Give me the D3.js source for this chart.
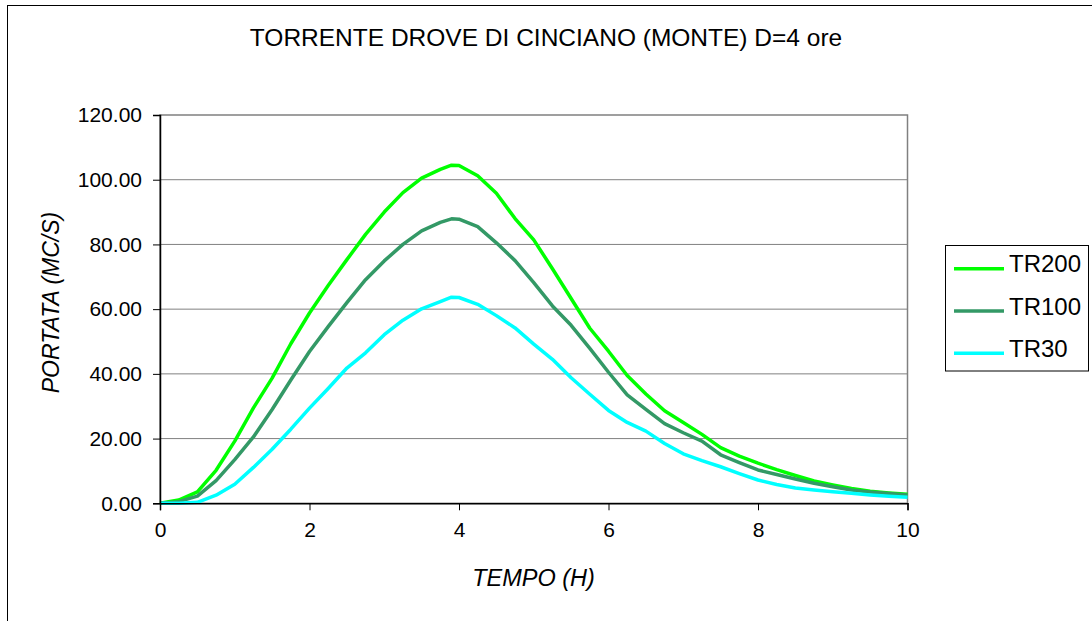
<!DOCTYPE html>
<html>
<head>
<meta charset="utf-8">
<script src="https://cdn.jsdelivr.net/npm/d3@7"></script>
<style>
  html, body { margin: 0; padding: 0; background: #fff; }
  svg { display: block; font-family: "Liberation Sans", Arial, sans-serif; }
</style>
</head>
<body>
<svg id="chart" width="1092" height="621"></svg>
<script>
const title = "TORRENTE DROVE DI CINCIANO (MONTE) D=4 ore";
const xTitle = "TEMPO (H)";
const yTitle = "PORTATA (MC/S)";
const seriesNames = ["TR200", "TR100", "TR30"];
const seriesColors = ["#00FF00", "#339966", "#00FFFF"];
const xTicks = [0, 2, 4, 6, 8, 10];
const yTicks = [0, 20, 40, 60, 80, 100, 120];

const time = [0, 0.25, 0.5, 0.75, 1, 1.25, 1.5, 1.75, 2, 2.25, 2.5, 2.75, 3, 3.25, 3.5, 3.75, 3.9, 4,
  4.25, 4.5, 4.75, 5, 5.25, 5.5, 5.75, 6, 6.25, 6.5, 6.75, 7, 7.25, 7.5, 7.75, 8,
  8.25, 8.5, 8.75, 9, 9.25, 9.5, 9.75, 10];
const tr200 = [0, 1.0, 3.5, 10.2, 19.2, 29.5, 38.7, 49.3, 58.8, 67.3, 75.3, 83.1, 90.0, 96.0, 100.5, 103.2, 104.5, 104.4,
  101.2, 95.8, 88.0, 81.4, 72.5, 63.3, 54.1, 47.0, 39.5, 33.8, 28.6, 25.0, 21.3, 17.2, 14.6, 12.4,
  10.4, 8.6, 6.9, 5.7, 4.6, 3.7, 3.2, 2.8];
const tr100 = [0, 0.5, 2.2, 7.0, 13.5, 20.5, 29.0, 38.1, 46.9, 54.6, 62.0, 69.1, 74.9, 80.0, 84.2, 86.8, 87.9, 87.8,
  85.5, 80.5, 75.0, 68.2, 61.0, 55.0, 47.9, 40.5, 33.5, 29.0, 24.6, 21.8, 19.2, 15.0, 12.6, 10.3,
  8.9, 7.5, 6.2, 5.1, 4.1, 3.5, 3.0, 2.6];
const tr30 = [0, 0, 0.3, 2.5, 5.9, 11.1, 16.7, 22.9, 29.4, 35.5, 41.8, 46.5, 52.1, 56.6, 60.1, 62.3, 63.7, 63.6,
  61.5, 58.0, 54.2, 49.2, 44.5, 38.8, 33.7, 28.7, 25.0, 22.3, 18.5, 15.3, 13.2, 11.3, 9.2, 7.2,
  5.8, 4.7, 4.1, 3.6, 3.1, 2.6, 2.2, 1.9];
const seriesValues = [tr200, tr100, tr30];

const svg = d3.select("#chart");
const L = 160, R = 907.5, T = 115, B = 503.3;
const x = d3.scaleLinear().domain([0, 10]).range([L, R]);
const y = d3.scaleLinear().domain([0, 120]).range([B, T]);

// outer chart border
svg.append("rect").attr("x", 7.5).attr("y", 5.5).attr("width", 1200).attr("height", 800)
  .attr("fill", "#fff").attr("stroke", "#000").attr("stroke-width", 1);

// plot area border (gray)
svg.append("rect").attr("x", L).attr("y", T).attr("width", R - L).attr("height", B - T)
  .attr("fill", "none").attr("stroke", "#808080").attr("stroke-width", 1.5);

// gridlines
svg.append("g").selectAll("line").data(yTicks.filter(d => d > 0 && d < 120)).join("line")
  .attr("x1", L).attr("x2", R).attr("y1", d => y(d)).attr("y2", d => y(d))
  .attr("stroke", "#808080").attr("stroke-width", 1);

// series lines
const line = d3.line().x((d, i) => x(time[i])).y(d => y(d));
seriesValues.forEach((vals, k) => {
  svg.append("path").datum(vals).attr("d", line)
    .attr("fill", "none").attr("stroke", seriesColors[k]).attr("stroke-width", 3.5)
    .attr("stroke-linejoin", "round").attr("stroke-linecap", "butt");
});

// axes
const yAxis = d3.axisLeft(y).tickValues(yTicks).tickFormat(d3.format(".2f")).tickSize(7).tickPadding(11);
const gy = svg.append("g").attr("transform", `translate(${L},0)`).call(yAxis);
gy.select(".domain").attr("stroke", "#000").attr("stroke-width", 1.5);
gy.selectAll(".tick line").attr("stroke", "#000");
gy.selectAll("text").attr("font-size", 21).attr("fill", "#000")
  .attr("font-family", "Liberation Sans, Arial, sans-serif");

const xAxis = d3.axisBottom(x).tickValues(xTicks).tickFormat(d3.format("d")).tickSize(7).tickPadding(12);
const gx = svg.append("g").attr("transform", `translate(0,${B})`).call(xAxis);
gx.select(".domain").attr("stroke", "#000").attr("stroke-width", 1.5);
gx.selectAll(".tick line").attr("stroke", "#000");
gx.selectAll("text").attr("font-size", 21).attr("fill", "#000")
  .attr("font-family", "Liberation Sans, Arial, sans-serif");

// title
svg.append("text").attr("x", 546).attr("y", 46).attr("text-anchor", "middle")
  .attr("font-size", 24.5).attr("fill", "#000").text(title);

// axis titles
svg.append("text").attr("x", 533.5).attr("y", 586).attr("text-anchor", "middle")
  .attr("font-size", 23.5).attr("font-style", "italic").attr("fill", "#000").text(xTitle);
svg.append("text").attr("transform", "translate(59,302.5) rotate(-90)").attr("text-anchor", "middle")
  .attr("font-size", 23).attr("font-style", "italic").attr("fill", "#000").text(yTitle);

// legend
svg.append("rect").attr("x", 945.5).attr("y", 245.5).attr("width", 143).attr("height", 125.5)
  .attr("fill", "#fff").attr("stroke", "#000").attr("stroke-width", 1);
const legY = [268.7, 311, 353.3];
seriesNames.forEach((name, k) => {
  svg.append("line").attr("x1", 954).attr("x2", 1004).attr("y1", legY[k]).attr("y2", legY[k])
    .attr("stroke", seriesColors[k]).attr("stroke-width", 3.5);
  svg.append("text").attr("x", 1009).attr("y", legY[k] + 3.5).attr("font-size", 24)
    .attr("fill", "#000").text(name);
});
</script>
</body>
</html>
